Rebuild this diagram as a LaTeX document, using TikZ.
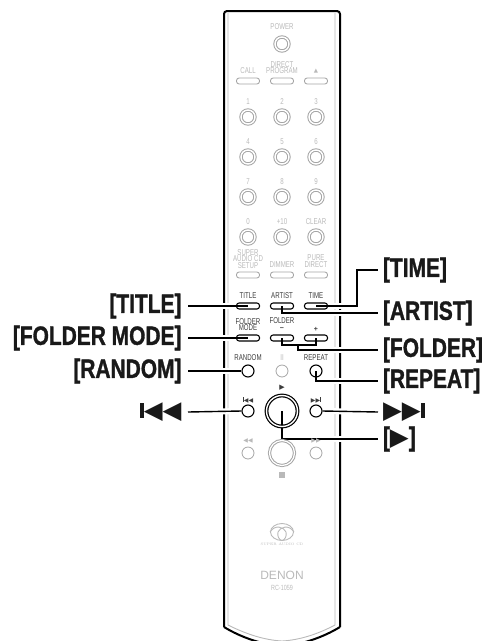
\documentclass[tikz,border=0pt]{standalone}
\usepackage{fontspec}
\setmainfont{Liberation Sans}
\newfontfamily\keyfont[FakeStretch=0.72]{Liberation Sans}
\newfontfamily\calloutfont[FakeStretch=0.79,FakeBold=1.2]{Liberation Sans}
\newfontfamily\symfont{DejaVu Sans}
\usetikzlibrary{positioning, shapes.geometric}
\pgfdeclarelayer{shell}
\pgfdeclarelayer{leaders}
\pgfsetlayers{shell,leaders,main}

\tikzset{
	keytext/.style={inner sep=0pt, align=center, font=\keyfont\fontsize{8.5}{6.8}\selectfont, text=offgray},
	livetext/.style={keytext, text=livegray},
	ringkey/.style={circle, draw=ringgray, line width=1pt, double=white, double distance=1.4pt, minimum size=14pt, inner sep=0pt},
	flatkey/.style={rectangle, rounded corners=2.6pt, draw=ringgray, line width=0.9pt, minimum width=23pt, minimum height=6pt, inner sep=0pt},
	livekey/.style={flatkey, draw=black, line width=1.1pt},
	dotkey/.style={circle, draw=ringgray, line width=0.8pt, minimum size=12pt, inner sep=0pt},
	livedot/.style={dotkey, draw=black, line width=1.1pt},
	callleft/.style={anchor=east, inner sep=0pt, outer sep=6.5pt, text=black!90, font=\calloutfont\bfseries\fontsize{26.5}{26.5}\selectfont},
	callright/.style={anchor=west, inner sep=0pt, outer sep=5pt, text=black!90, font=\calloutfont\bfseries\fontsize{26.5}{26.5}\selectfont},
	leader/.style={draw=black, line width=1.4pt, preaction={draw=white, line width=6pt}}
}

\begin{document}
\begin{tikzpicture}[x=1pt, y=-1pt, on grid]

	% Colors
	\definecolor{offgray}{RGB}{185,185,185}
	\definecolor{ringgray}{RGB}{165,165,165}
	\definecolor{livegray}{RGB}{60,60,60}

	\useasboundingbox (0,0) rectangle (482,641);

	% Top keys
	\node (power) [ringkey] at (282,44) {};
	\node (powertext) [keytext] at (282,27) {POWER};
	\node (call) [flatkey] at (248,81) {};
	\node (direct) [flatkey, right=34pt of call] {};
	\node (eject) [flatkey, right=34pt of direct] {};
	\node (calltext) [keytext, above=10pt of call] {CALL};
	\node (directtext) [keytext, above=13.5pt of direct] {DIRECT\\PROGRAM};
	\node (ejecttext) [keytext, above=10pt of eject] {\symfont\fontsize{5.5}{5.5}\selectfont ▲};

	% Number keys
	\node (one) [ringkey] at (248,117) {};
	\node (two) [ringkey, right=34pt of one] {};
	\node (three) [ringkey, right=34pt of two] {};
	\node (four) [ringkey, below=40pt of one] {};
	\node (five) [ringkey, right=34pt of four] {};
	\node (six) [ringkey, right=34pt of five] {};
	\node (seven) [ringkey, below=40pt of four] {};
	\node (eight) [ringkey, right=34pt of seven] {};
	\node (nine) [ringkey, right=34pt of eight] {};
	\node (zero) [ringkey, below=40pt of seven] {};
	\node (ten) [ringkey, right=34pt of zero] {};
	\node (clear) [ringkey, right=34pt of ten] {};
	\node (onetext) [keytext, above=15pt of one] {1};
	\node (twotext) [keytext, above=15pt of two] {2};
	\node (threetext) [keytext, above=15pt of three] {3};
	\node (fourtext) [keytext, above=15pt of four] {4};
	\node (fivetext) [keytext, above=15pt of five] {5};
	\node (sixtext) [keytext, above=15pt of six] {6};
	\node (seventext) [keytext, above=15pt of seven] {7};
	\node (eighttext) [keytext, above=15pt of eight] {8};
	\node (ninetext) [keytext, above=15pt of nine] {9};
	\node (zerotext) [keytext, above=15pt of zero] {0};
	\node (tentext) [keytext, above=15pt of ten] {+10};
	\node (cleartext) [keytext, above=15pt of clear] {CLEAR};

	% Setup row
	\node (setup) [flatkey] at (248,275) {};
	\node (dimmer) [flatkey, right=34pt of setup] {};
	\node (pure) [flatkey, right=34pt of dimmer] {};
	\node (setuptext) [keytext, above=16pt of setup] {SUPER\\AUDIO CD\\SETUP};
	\node (dimmertext) [keytext, above=10pt of dimmer] {DIMMER};
	\node (puretext) [keytext, above=13.5pt of pure] {PURE\\DIRECT};

	% Live keys
	\node (title) [livekey] at (248,306) {};
	\node (artist) [livekey, right=34pt of title] {};
	\node (time) [livekey, right=34pt of artist] {};
	\node (titletext) [livetext, above=10pt of title] {TITLE};
	\node (artisttext) [livetext, above=10pt of artist] {ARTIST};
	\node (timetext) [livetext, above=10pt of time] {TIME};
	\node (foldermode) [livekey] at (248,338) {};
	\node (minus) [livekey, right=34pt of foldermode] {};
	\node (plus) [livekey, right=34pt of minus] {};
	\node (foldermodetext) [livetext, above=13.5pt of foldermode] {FOLDER\\MODE};
	\node (foldertext) [livetext, above=17pt of minus] {FOLDER};
	\node (minustext) [livetext, above=9pt of minus, font=\bfseries\fontsize{7}{7}\selectfont] {−};
	\node (plustext) [livetext, above=9pt of plus, font=\bfseries\fontsize{7}{7}\selectfont] {+};
	\node (random) [livedot] at (248,371) {};
	\node (pause) [dotkey, right=34pt of random] {};
	\node (repeat) [livedot, right=34pt of pause] {};
	\node (randomtext) [livetext, above=13pt of random] {RANDOM};
	\node (pausetext) [keytext, above=13pt of pause] {II};
	\node (repeattext) [livetext, above=13pt of repeat] {REPEAT};

	% Transport keys
	\node (prev) [livedot] at (248,411) {};
	\node (play) [circle, draw=black, line width=1.2pt, double=white, double distance=1.4pt, minimum size=31pt, inner sep=0pt, right=34pt of prev] {};
	\node (next) [livedot, right=34pt of play] {};
	\node (prevtext) [livetext, above=11pt of prev] {\rule[0.4pt]{1pt}{4.4pt}\symfont\fontsize{6}{6}\selectfont ◀◀};
	\node (playtext) [livetext, above=23pt of play] {\symfont\fontsize{7}{7}\selectfont ▶};
	\node (nexttext) [livetext, above=11pt of next] {\symfont\fontsize{6}{6}\selectfont ▶▶\rule[0.4pt]{1pt}{4.4pt}};
	\node (rewind) [dotkey] at (248,453) {};
	\node (stop) [circle, draw=ringgray, line width=1pt, double=white, double distance=1.2pt, minimum size=25pt, inner sep=0pt, right=34pt of rewind] {};
	\node (forward) [dotkey, right=34pt of stop] {};
	\node (rewindtext) [keytext, above=12pt of rewind] {\symfont\fontsize{6}{6}\selectfont ◀◀};
	\node (forwardtext) [keytext, above=12pt of forward] {\symfont\fontsize{6}{6}\selectfont ▶▶};
	\node (stopmark) [fill=offgray, minimum size=5.5pt, inner sep=0pt, below=22pt of stop] {};

	% Logo and maker
	\node (sacd) [ellipse, draw=offgray, line width=0.9pt, minimum width=23pt, minimum height=17pt, inner sep=0pt] at (282,532) {};
	\node (sacdtext) [inner sep=0pt, text=offgray, font=\fontfamily{lmr}\fontsize{3.6}{3.6}\selectfont, below=12pt of sacd] {SUPER AUDIO CD};
	\node (maker) [inner sep=0pt, text=offgray, font=\fontsize{12}{12}\selectfont] at (282,575) {DENON};
	\node (model) [inner sep=0pt, text=offgray, font=\keyfont\fontsize{7.5}{7.5}\selectfont, below=13pt of maker] {RC-1059};
	\draw[offgray, line width=0.9pt] (sacd.west) .. controls (275,524) and (284,527) .. (286,532) .. controls (287,536) and (285,540) .. (282,540.5);
	\draw[offgray, line width=0.9pt] (sacd.east) .. controls (289,524) and (280,527) .. (278,532) .. controls (277,536) and (279,540) .. (282,540.5);

	% Callouts
	\node (calltitle) [callleft] at (188,306) {[TITLE]};
	\node (callmode) [callleft] at (188,338) {[FOLDER MODE]};
	\node (callrandom) [callleft] at (188,371) {[RANDOM]};
	\node (callprev) [callleft, font=\fontsize{24.5}{24.5}\selectfont] at (188,412) {\rule[0.5pt]{4pt}{15pt}\symfont ◀◀};
	\node (calltime) [callright] at (378,270) {[TIME]};
	\node (callartist) [callright] at (378,313) {[ARTIST]};
	\node (callfolder) [callright] at (378,350) {[FOLDER]};
	\node (callrepeat) [callright] at (378,381) {[REPEAT]};
	\node (callnext) [callright, font=\fontsize{24.5}{24.5}\selectfont] at (378,412) {\symfont ▶▶\rule[0.5pt]{4pt}{15pt}};
	\node (callplay) [callright] at (378,439) {[{\symfont\mdseries\fontsize{24.5}{24.5}\selectfont ▶}]};
	\coordinate (timeturn) at (357,270);
	\coordinate (folderjoin) at (298,345);

	% Leaders
	\begin{pgfonlayer}{leaders}
		\draw[leader] (calltitle.east) -- (title.center);
		\draw[leader] (callmode.east) -- (foldermode.center);
		\draw[leader] (callrandom.east) -- (random.west);
		\draw[leader] (callprev.east) -- (prev.west);
		\draw[leader] (time.center) -| (timeturn) -- (calltime.west);
		\draw[leader] (artist.center) |- (callartist.west);
		\draw[leader] (minus.center) |- (folderjoin) -| (plus.center) (folderjoin) |- (callfolder.west);
		\draw[leader] (repeat.center) |- (callrepeat.west);
		\draw[leader] (next.east) -- (callnext.west);
		\draw[leader] (play.center) |- (callplay.west);
	\end{pgfonlayer}

	% Remote body
	\begin{pgfonlayer}{shell}
		\draw[offgray, line width=0.9pt] (228,13) -- (228,625) .. controls (246,634) and (264,640) .. (282,641) .. controls (300,640) and (318,634) .. (335,625) -- (335,13);
		\draw[black, line width=2pt, rounded corners=3pt] (224,627) -- (224,11) -- (340,11) -- (340,627);
		\draw[black, line width=2pt] (224,627) .. controls (242,638) and (264,645) .. (282,646) .. controls (300,645) and (322,638) .. (340,627);
	\end{pgfonlayer}

\end{tikzpicture}
\end{document}
